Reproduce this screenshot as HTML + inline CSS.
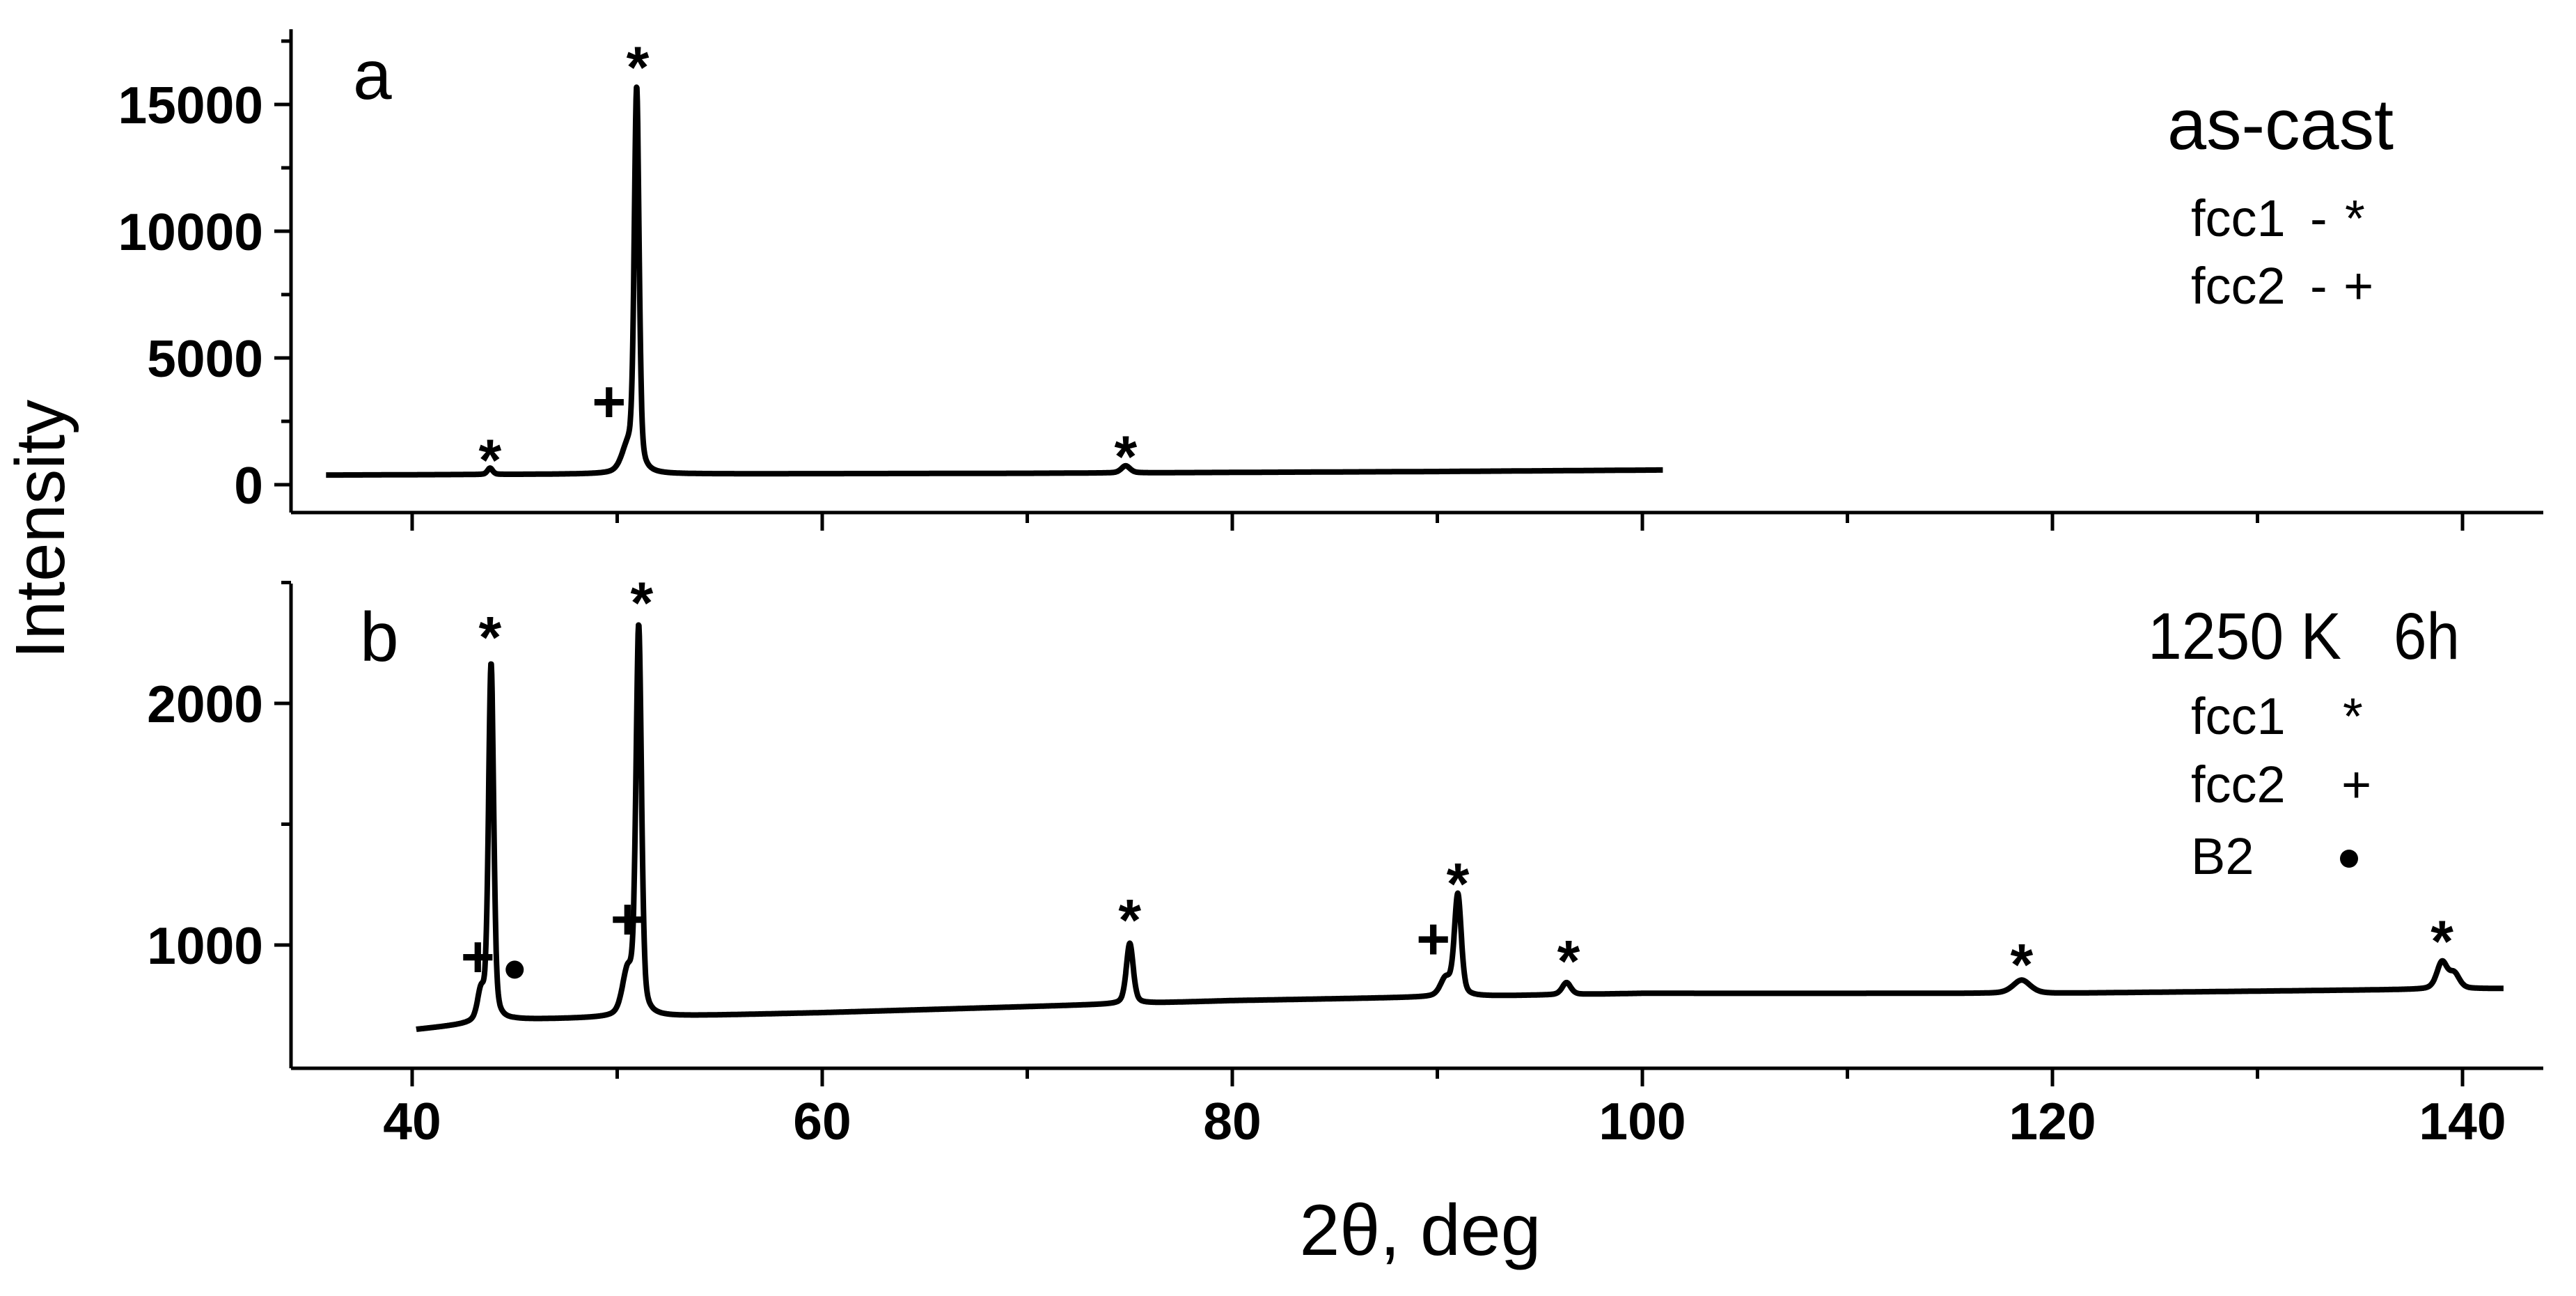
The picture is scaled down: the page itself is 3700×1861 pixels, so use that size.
<!DOCTYPE html>
<html><head><meta charset="utf-8"><style>
html,body{margin:0;padding:0;background:#fff;}
svg{display:block;font-family:"Liberation Sans",Arial,sans-serif;}
</style></head><body>
<svg id="chart" width="3700" height="1861" viewBox="0 0 3700 1861" xmlns="http://www.w3.org/2000/svg">
<g id="axes"></g>
<g id="series"></g>
<g id="labels">
<text transform="translate(92,760) rotate(-90)" text-anchor="middle" font-size="100">Intensity</text>
<text x="2040" y="1802" text-anchor="middle" font-size="104">2θ, deg</text>
<text x="507" y="142" font-size="100">a</text>
<text x="517" y="949" font-size="100">b</text>
<text x="3113" y="214" font-size="103" textLength="325" lengthAdjust="spacingAndGlyphs">as-cast</text>
<text x="3147" y="339" font-size="74">fcc1</text>
<text x="3318" y="339" font-size="74">-</text>
<text x="3368" y="339" font-size="74">*</text>
<text x="3147" y="436" font-size="74">fcc2</text>
<text x="3318" y="436" font-size="74">-</text>
<text x="3366" y="436" font-size="74">+</text>
<text x="3085" y="946" font-size="95" textLength="278" lengthAdjust="spacingAndGlyphs">1250 K</text>
<text x="3438" y="946" font-size="95" textLength="95" lengthAdjust="spacingAndGlyphs">6h</text>
<text x="3147" y="1054" font-size="74">fcc1</text>
<text x="3365" y="1054" font-size="74">*</text>
<text x="3147" y="1152" font-size="74">fcc2</text>
<text x="3363" y="1152" font-size="74">+</text>
<text x="3147" y="1255" font-size="74">B2</text>
<circle cx="3374" cy="1233" r="13" fill="#000"/>
</g>
<g id="annots"></g>
</svg>
<script>
// ---- data: panel a (as-cast) ----
const aBaseX = [35.8, 50, 70, 90, 101];
const aBaseY = [380, 420, 450, 520, 580];
const aPeakPos = [43.8, 50.5, 50.95, 74.8];
const aPeakHeight = [250, 900, 15000, 280];
const aPeakWidth = [0.15, 0.35, 0.14, 0.25];
// ---- data: panel b (1250 K 6h) ----
const bBaseX = [40.2, 45, 60, 80, 100, 120, 142];
const bBaseY = [650, 690, 720, 770, 800, 800, 820];
const bPeakPos = [43.35, 43.85, 50.5, 51.05, 75.0, 90.4, 91.0, 96.3, 118.5, 139.0, 139.6];
const bPeakHeight = [110, 1480, 170, 1600, 250, 70, 420, 50, 55, 110, 60];
const bPeakWidth = [0.2, 0.15, 0.3, 0.16, 0.2, 0.3, 0.2, 0.25, 0.5, 0.3, 0.3];
// ---- ticks ----
const xMajorTicks = [40, 60, 80, 100, 120, 140];
const xMinorTicks = [50, 70, 90, 110, 130];
const aYTickLabels = [0, 5000, 10000, 15000];
const aYMinor = [2500, 7500, 12500, 17500];
const bYTickLabels = [1000, 2000];
const bYMinor = [1500, 2500];
// ---- annotations [x, y] ----
const aStars = [[43.8, 1613], [51.0, 17100], [74.8, 1742]];
const aPlus = [[49.6, 3226]];
const bStars = [[43.8, 2340], [51.2, 2483], [75.0, 1170], [91.0, 1320], [96.4, 1000], [118.5, 986], [139.0, 1082]];
const bPlus = [[43.2, 946], [50.5, 1102], [89.8, 1020]];
const bDots = [[45.0, 898]];

const NS = "http://www.w3.org/2000/svg";
const X0 = 592, XPER = 589 / 20;
const xs = v => X0 + (v - 40) * XPER;
const ya = v => 696 - v * 182 / 5000;
const yb = v => 1357 - (v - 1000) * 347 / 1000;
function mk(tag, attrs, parent) {
  const e = document.createElementNS(NS, tag);
  for (const k in attrs) e.setAttribute(k, attrs[k]);
  parent.appendChild(e); return e;
}
const axes = document.getElementById('axes');
const series = document.getElementById('series');
const ann = document.getElementById('annots');
const LW = 5;
function panel(name, top, bottom, yfn, labels, minor) {
  let l = mk('line', {x1: 418, y1: top, x2: 418, y2: bottom, stroke: '#000', 'stroke-width': LW}, axes);
  
  
  l = mk('line', {x1: 418, y1: bottom, x2: 3653, y2: bottom, stroke: '#000', 'stroke-width': LW}, axes);
  
  
  labels.forEach(v => {
    const t = mk('line', {x1: 394, y1: yfn(v), x2: 418, y2: yfn(v), stroke: '#000', 'stroke-width': LW}, axes);
    
    
    const tx = mk('text', {x: 378, y: yfn(v) + 27, 'text-anchor': 'end', 'font-size': 75, 'font-weight': 'bold'}, axes);
    tx.textContent = v;
    
    
  });
  minor.forEach(v => {
    const t = mk('line', {x1: 404, y1: yfn(v), x2: 418, y2: yfn(v), stroke: '#000', 'stroke-width': LW}, axes);
    
    
  });
  xMajorTicks.forEach(v => {
    const t = mk('line', {x1: xs(v), y1: bottom, x2: xs(v), y2: bottom + 26, stroke: '#000', 'stroke-width': LW}, axes);
    
    
  });
  xMinorTicks.forEach(v => {
    const t = mk('line', {x1: xs(v), y1: bottom, x2: xs(v), y2: bottom + 15, stroke: '#000', 'stroke-width': LW}, axes);
    
    
  });
}
panel('panel-a', 42, 736, ya, aYTickLabels, aYMinor);
panel('panel-b', 838, 1534, yb, bYTickLabels, bYMinor);
xMajorTicks.forEach(v => {
  const tx = mk('text', {x: xs(v), y: 1636, 'text-anchor': 'middle', 'font-size': 75, 'font-weight': 'bold'}, axes);
  tx.textContent = v;
  
  
});
function interp(bx, by, x) {
  if (x <= bx[0]) return by[0];
  for (let i = 1; i < bx.length; i++) if (x <= bx[i]) {
    const t = (x - bx[i-1]) / (bx[i] - bx[i-1]); return by[i-1] + t * (by[i] - by[i-1]);
  }
  return by[by.length - 1];
}
function curve(name, bx, by, pp, ph, pw, yfn) {
  let d = '';
  const x0 = bx[0], x1 = bx[bx.length - 1];
  for (let x = x0; x <= x1 + 1e-9; x += 0.02) {
    let v = interp(bx, by, x);
    for (let i = 0; i < pp.length; i++) {
      const u = (x - pp[i]) / pw[i];
      v += ph[i] * (0.6 * Math.exp(-0.693 * u * u) + 0.4 / (1 + u * u));
    }
    d += (d ? 'L' : 'M') + xs(x).toFixed(1) + ',' + yfn(v).toFixed(1);
  }
  const p = mk('path', {d: d, fill: 'none', stroke: '#000', 'stroke-width': 8, 'stroke-linejoin': 'round'}, series);
  
  
}
curve('as-cast-pattern', aBaseX, aBaseY, aPeakPos, aPeakHeight, aPeakWidth, ya);
curve('annealed-pattern', bBaseX, bBaseY, bPeakPos, bPeakHeight, bPeakWidth, yb);
function marks(arr, yfn, ch, name, dy) {
  arr.forEach(p => {
    const t = mk('text', {x: xs(p[0]), y: yfn(p[1]) + dy, 'text-anchor': 'middle', 'font-size': 84, 'font-weight': 'bold'}, ann);
    t.textContent = ch;
    
    
  });
}
marks(aStars, ya, '*', 'fcc1-marker', 52);
marks(aPlus, ya, '+', 'fcc2-marker', 27);
marks(bStars, yb, '*', 'fcc1-marker', 52);
marks(bPlus, yb, '+', 'fcc2-marker', 27);
bDots.forEach(p => {
  const c = mk('circle', {cx: xs(p[0]), cy: yb(p[1]), r: 13, fill: '#000'}, ann);
  
  
});
</script>
</body></html>
